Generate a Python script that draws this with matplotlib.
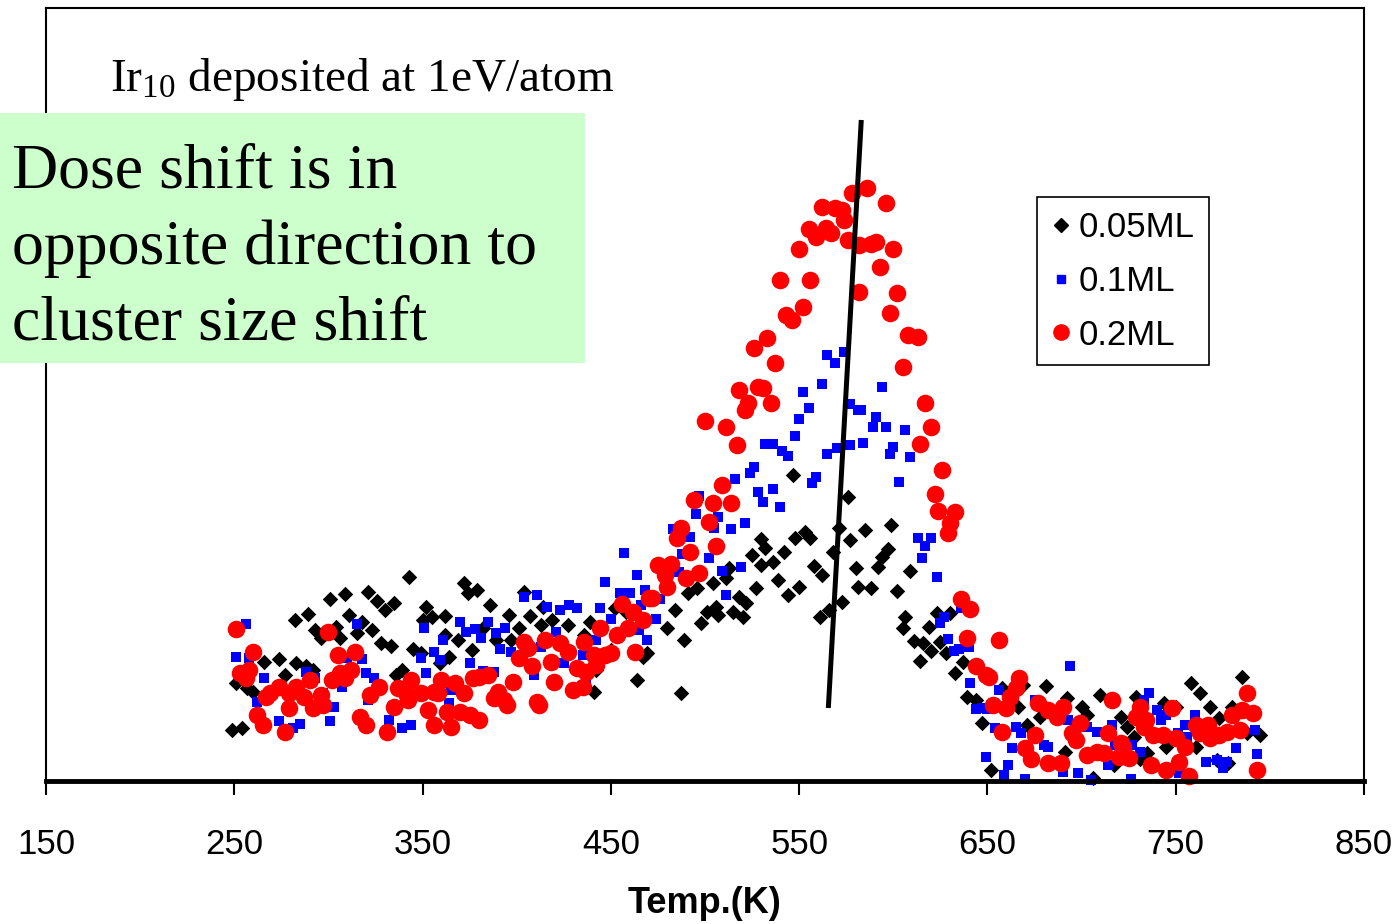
import matplotlib
matplotlib.use("Agg")
import matplotlib.pyplot as plt
from matplotlib.lines import Line2D
from matplotlib.patches import Rectangle

plt.rcParams["font.family"] = ["Liberation Sans", "DejaVu Sans"]
plt.rcParams["mathtext.fontset"] = "custom"
plt.rcParams["mathtext.rm"] = "Liberation Serif"
plt.rcParams["mathtext.it"] = "Liberation Serif:italic"

# desorption signal (arbitrary units) vs temperature (K)
temp_005 = [
    343, 301, 309, 321, 326, 335, 330, 352, 350, 355, 282, 289, 311, 318, 323, 304, 306, 293, 296, 315,
    328, 333, 345, 349, 266, 274, 283, 288, 292, 277, 339, 336, 251, 257, 260, 249, 254,
    372, 379, 374, 386, 362, 396, 407, 404, 414, 419, 427, 413, 401, 397, 389, 382, 369, 362, 364,
    376, 359, 439, 436, 452, 458, 450, 442, 441, 464, 467,
    547, 576, 571, 577, 530, 532, 548, 553, 556, 542, 525, 530, 536, 568, 558, 562, 580, 513, 511, 504,
    496, 491, 527, 539, 550, 544, 518, 522, 515, 520, 506, 501, 507, 498, 484, 480, 489, 469, 566, 561,
    573, 581, 487,
    585, 599, 597, 594, 592, 609, 588, 602, 606, 605, 619, 623, 630, 611, 616, 620, 625, 628, 614, 637,
    633, 639, 644, 681, 658, 666, 669,
    647, 652, 692, 700, 703, 710, 691, 706, 717, 721, 724, 728, 729, 735, 678, 671,
    758, 763, 768, 773, 785, 780, 788, 795, 778, 772, 731, 744, 750, 745, 761,
]
signal_005 = [
    204, 182, 187, 189, 180, 178, 171, 174, 161, 164, 161, 167, 166, 159, 151, 154, 143, 151, 143, 148,
    138, 135, 132, 128, 119, 122, 118, 115, 111, 106, 111, 106, 98, 93, 89, 51, 53,
    198, 191, 188, 176, 165, 166, 165, 189, 174, 161, 156, 156, 153, 141, 141, 153, 141, 146, 124,
    131, 118, 159, 146, 173, 169, 131, 111, 89, 101, 124,
    306, 284, 253, 241, 242, 233, 243, 249, 243, 229, 226, 216, 219, 229, 215, 206, 213, 213, 203, 198,
    193, 188, 193, 201, 194, 186, 184, 178, 169, 164, 174, 169, 166, 158, 171, 153, 141, 128, 171, 164,
    179, 194, 88,
    251, 256, 232, 224, 214, 210, 193, 190, 164, 153, 154, 168, 168, 140, 138, 130, 139, 128, 120, 119,
    108, 84, 81, 95, 93, 74, 96,
    58, 11, 83, 74, 66, 86, 29, 3, 16, 64, 54, 44, 84, 28, 64, 56,
    98, 88, 74, 63, 104, 74, 48, 46, 18, 21, 22, 78, 74, 34, 34,
]

temp_01 = [
    256, 315, 351, 356, 349, 251, 258, 318, 310, 320, 324, 352, 266, 288, 293, 307, 262, 303, 274, 285,
    281, 301, 339, 344, 332, 321, 297,
    457, 464, 447, 455, 460, 404, 411, 416, 423, 428, 432, 444, 450, 466, 370, 373, 378, 381, 385, 389,
    394, 361, 359, 391, 397, 421, 413, 375, 382, 388, 409, 435, 425, 442, 365, 364, 437, 469,
    532, 536, 541, 544, 565, 570, 577, 526, 524, 516, 559, 557, 528, 531, 536, 540, 497, 495, 507, 505,
    514, 521, 483, 492, 488, 502, 509, 519, 486, 480, 476, 511, 468, 474, 465,
    565, 569, 574, 562, 552, 555, 550, 548, 577, 581,
    594, 583, 591, 589, 596, 606, 584, 600,
    598, 609, 603, 613, 620, 617, 615, 623, 636, 627, 625, 629, 632, 635, 640, 641, 656, 675, 644, 650, 694,
    665, 668, 663, 649, 661, 659, 670, 680, 682, 690, 698, 705, 708, 716, 714, 726, 731, 736, 733, 740,
    721, 727, 699, 703, 654, 693, 718, 647,
    745, 755, 760, 751, 756, 766, 772, 775, 777, 782, 792, 793, 752, 742,
]
signal_01 = [
    157, 157, 153, 129, 123, 124, 123, 122, 123, 108, 103, 108, 103, 109, 103, 94, 79, 74, 60, 57,
    53, 60, 53, 56, 61, 81, 88,
    228, 206, 199, 188, 188, 184, 186, 174, 171, 176, 173, 173, 162, 176, 159, 149, 152, 143, 159, 148,
    153, 141, 121, 132, 129, 149, 134, 118, 110, 109, 106, 126, 118, 141, 91, 78, 103, 141,
    337, 337, 330, 325, 327, 333, 336, 314, 308, 302, 304, 298, 289, 279, 292, 274, 285, 267, 264, 253,
    252, 258, 252, 244, 227, 223, 210, 214, 209, 191, 182, 186, 191, 162, 151,
    426, 418, 429, 397, 389, 373, 362, 345, 377, 371,
    394, 371, 364, 354, 354, 351, 338, 334,
    327, 324, 299, 243, 243, 235, 223, 204, 173, 164, 158, 142, 130, 132, 134, 98, 91, 81, 72, 72, 115,
    54, 48, 33, 24, 16, 6, 2, 36, 34, 9, 8, 1, 49, 56, 16, 2, 29, 88, 81, 71,
    24, 36, 54, 54, 53, 61, 36, 73,
    66, 56, 66, 48, 44, 19, 21, 13, 19, 33, 51, 27, 8, 61,
]

temp_02 = [
    251, 300, 260, 305, 314, 253, 258, 256, 312, 306, 302, 309, 269, 267, 274, 279, 283, 290, 287, 296,
    297, 292, 279, 322, 327, 337, 344, 349, 335, 342, 356, 353, 262, 265, 277, 317, 320, 331, 356, 341,
    470, 456, 462, 467, 459, 453, 444, 450, 447, 463, 436, 423, 427, 415, 404, 406, 401, 408, 418, 432,
    437, 442, 441, 420, 430, 435, 398, 395, 393, 388, 390, 385, 380, 377, 367, 360, 372, 358, 363, 370,
    375, 380, 365, 411, 412,
    517, 509, 494, 504, 514, 502, 487, 485, 492, 506, 475, 482, 479, 490, 497, 480, 472,
    578, 562, 569, 573, 574, 555, 559, 564, 567, 576, 550, 540, 556, 543, 546, 552, 533, 526, 537, 518,
    528, 531, 523, 521, 535, 500, 511, 582, 582,
    586, 596, 588, 591, 600, 593, 602, 598, 608, 613, 605, 617, 620, 614,
    626, 622, 624, 633, 630, 629, 636, 641, 639, 656, 644, 649, 651, 667, 665, 662, 653, 660, 677, 682,
    690, 687,
    658, 699, 695, 697, 675, 670, 673, 682, 689, 703, 708, 714, 712, 716, 721, 720, 725, 731, 729, 734,
    738, 737,
    733, 743, 748, 750, 755, 752, 745, 757, 761, 767, 763, 768, 773, 777, 780, 784, 788, 791, 785, 793, 722,
]
signal_02 = [
    152, 149, 129, 126, 129, 108, 111, 103, 111, 108, 101, 103, 88, 84, 94, 88, 94, 101, 84, 86,
    76, 73, 73, 86, 94, 93, 101, 88, 74, 81, 89, 71, 66, 56, 49, 64, 56, 49, 56, 88,
    183, 177, 169, 161, 153, 146, 153, 128, 126, 129, 139, 138, 129, 141, 139, 133, 123, 115, 119, 113,
    109, 116, 126, 99, 91, 94, 99, 76, 81, 83, 89, 106, 104, 103, 98, 101, 88, 88, 69, 69,
    66, 61, 54, 79, 76,
    336, 296, 281, 278, 278, 259, 253, 243, 229, 235, 216, 217, 206, 203, 208, 194, 183,
    588, 574, 573, 571, 561, 552, 544, 553, 548, 541, 532, 501, 501, 466, 461, 474, 443, 433, 418, 391,
    394, 393, 378, 371, 378, 360, 354, 489, 536,
    593, 578, 537, 539, 532, 514, 488, 468, 446, 444, 414, 378, 354, 337,
    311, 287, 270, 269, 258, 248, 182, 172, 143, 141, 115, 106, 104, 103, 93, 84, 76, 73, 78, 71,
    74, 64,
    49, 58, 48, 41, 46, 33, 22, 18, 18, 26, 29, 48, 28, 81, 38, 24, 23, 74, 64, 61,
    46, 16,
    54, 46, 73, 43, 34, 19, 11, 5, 56, 56, 48, 43, 46, 49, 66, 51, 88, 68, 71, 11, 34,
]

# guide line drawn through the peak maxima
shift_temp = [565.5, 583.0]
shift_signal = [73, 661]

series_labels = ["0.05ML", "0.1ML", "0.2ML"]
x_ticks = [150, 250, 350, 450, 550, 650, 750, 850]

W, H = 1398, 924
fig = plt.figure(figsize=(W / 100, H / 100), dpi=100)
ax = fig.add_axes([46 / W, (H - 781) / H, 1318 / W, 773 / H])

ax.scatter(temp_005, signal_005, marker="D", s=62, color="black", linewidths=0, zorder=2, clip_on=False)
ax.scatter(temp_01, signal_01, marker="s", s=50, color="#0000FF", linewidths=0, zorder=3, clip_on=False)
ax.scatter(temp_02, signal_02, marker="o", s=160, color="#FF0000", linewidths=0, zorder=4, clip_on=False)
ax.plot(shift_temp, shift_signal, color="black", lw=3.6, zorder=5, solid_capstyle="butt")

ax.set_xlim(150, 850)
ax.set_ylim(0, 773)
ax.set_xticks(x_ticks)
ax.set_yticks([])
ax.tick_params(axis="x", direction="out", length=10, width=1.5, labelsize=25, pad=24)
for side in ["left", "top", "right"]:
    ax.spines[side].set_linewidth(1.5)
ax.spines["bottom"].set_linewidth(3.5)
ax.spines["bottom"].set_zorder(6)
ax.set_xlabel("Temp.(K)", fontsize=26, fontweight="bold", labelpad=18)

handles = [
    Line2D([], [], ls="none", marker="D", ms=7, color="black"),
    Line2D([], [], ls="none", marker="s", ms=6, color="#0000FF"),
    Line2D([], [], ls="none", marker="o", ms=11, color="#FF0000"),
]
leg = ax.legend(
    handles, series_labels, loc="upper left", bbox_to_anchor=(0.752, 0.7555),
    fontsize=25, frameon=True, fancybox=False, framealpha=1, edgecolor="black",
    handlelength=0.6, handletextpad=0.2, borderpad=0.4, labelspacing=0.6, borderaxespad=0,
)
leg.get_frame().set_linewidth(1.2)

fig.text(110 / W, 1 - 91 / H, r"Ir$_{\mathrm{10}}$ deposited at 1eV/atom",
         fontsize=34, family="Liberation Serif", va="baseline")

fig.patches.append(Rectangle((0, 1 - 363 / H), 585 / W, 250 / H, transform=fig.transFigure,
                             facecolor="#CCFFCC", edgecolor="none", zorder=1))
note_lines = ["Dose shift is in", "opposite direction to", "cluster size shift"]
for line, base in zip(note_lines, [187, 264, 340]):
    fig.text(12 / W, 1 - base / H, line, fontsize=46, family="Liberation Serif", va="baseline", zorder=3)

fig.savefig("out.png", dpi=100)
